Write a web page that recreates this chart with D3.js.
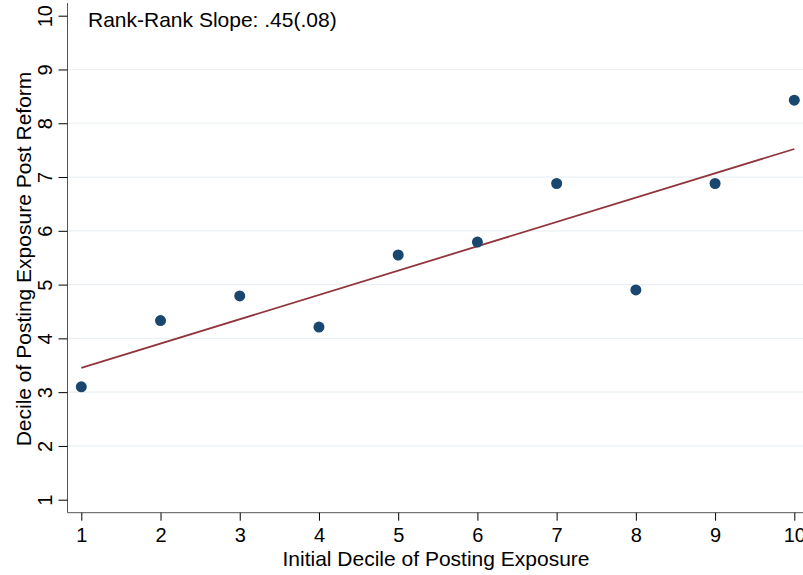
<!DOCTYPE html>
<html><head><meta charset="utf-8">
<script src="https://cdn.jsdelivr.net/npm/d3@7"></script>
<style>html,body{margin:0;padding:0;background:#fff;}svg{display:block;font-family:"Liberation Sans",Arial,Helvetica,sans-serif;}</style>
</head><body>
<svg id="c" width="803" height="575"></svg>
<script>
const deciles = [1,2,3,4,5,6,7,8,9,10];
const postReform = [3.10,4.33,4.79,4.21,5.55,5.79,6.88,4.90,6.88,8.43];
const xTicks = [1,2,3,4,5,6,7,8,9,10];
const yTicks = [1,2,3,4,5,6,7,8,9,10];
const annotation = "Rank-Rank Slope: .45(.08)";
const xTitle = "Initial Decile of Posting Exposure";
const yTitle = "Decile of Posting Exposure Post Reform";

const svg = d3.select("#c");
const x = d3.scaleLinear().domain([1,10]).range([81.3,794.3]);
const y = d3.scaleLinear().domain([1,10]).range([499.7,15.7]);
const x0 = 67.5, y0 = 512.7;

// gridlines
svg.append("g").selectAll("line").data(yTicks.filter(d=>d>1&&d<10)).join("line")
  .attr("x1",x0).attr("x2",803).attr("y1",d=>y(d)).attr("y2",d=>y(d))
  .attr("stroke","#eaf0f3").attr("stroke-width",1.2);

// axes
const ya = svg.append("g").attr("transform",`translate(${x0},0)`)
  .call(d3.axisLeft(y).tickValues(yTicks).tickSize(9).tickPadding(6).tickFormat(d3.format("d")));
ya.select(".domain").attr("d",`M0,3V${y0}`).attr("stroke","#555");
ya.selectAll(".tick line").attr("stroke","#000");
ya.selectAll(".tick text").attr("font-size",20).attr("fill","#000")
  .attr("text-anchor","middle").attr("x",0).attr("y",0).attr("dy","0.35em")
  .attr("transform","translate(-23,0) rotate(-90)");

const xa = svg.append("g").attr("transform",`translate(0,${y0})`)
  .call(d3.axisBottom(x).tickValues(xTicks).tickSize(8).tickPadding(7).tickFormat(d3.format("d")));
xa.select(".domain").attr("d",`M${x0},0H803`).attr("stroke","#555");
xa.selectAll(".tick line").attr("stroke","#000");
xa.selectAll(".tick text").attr("font-size",20).attr("fill","#000");

// fit line (OLS from data)
const mx = d3.mean(deciles), my = d3.mean(postReform);
let sxy=0,sxx=0;
deciles.forEach((d,i)=>{sxy+=(d-mx)*(postReform[i]-my);sxx+=(d-mx)*(d-mx);});
const b = sxy/sxx, a = my-b*mx;
const xr = d3.extent(deciles);
svg.append("line").attr("x1",x(xr[0])).attr("y1",y(a+b*xr[0]))
  .attr("x2",x(xr[1])).attr("y2",y(a+b*xr[1]))
  .attr("stroke","#90353b").attr("stroke-width",1.8);

// points
svg.append("g").selectAll("circle").data(deciles).join("circle")
  .attr("cx",d=>x(d)).attr("cy",(d,i)=>y(postReform[i])).attr("r",5.5)
  .attr("fill","#1a476f");

// texts
svg.append("text").attr("x",88).attr("y",26.5).attr("font-size",21).attr("fill","#000").text(annotation);
svg.append("text").attr("x",436).attr("y",566).attr("text-anchor","middle").attr("font-size",21).attr("fill","#000").text(xTitle);
svg.append("text").attr("transform","translate(31,259) rotate(-90)").attr("text-anchor","middle").attr("font-size",21).attr("fill","#000").text(yTitle);
</script>
</body></html>
